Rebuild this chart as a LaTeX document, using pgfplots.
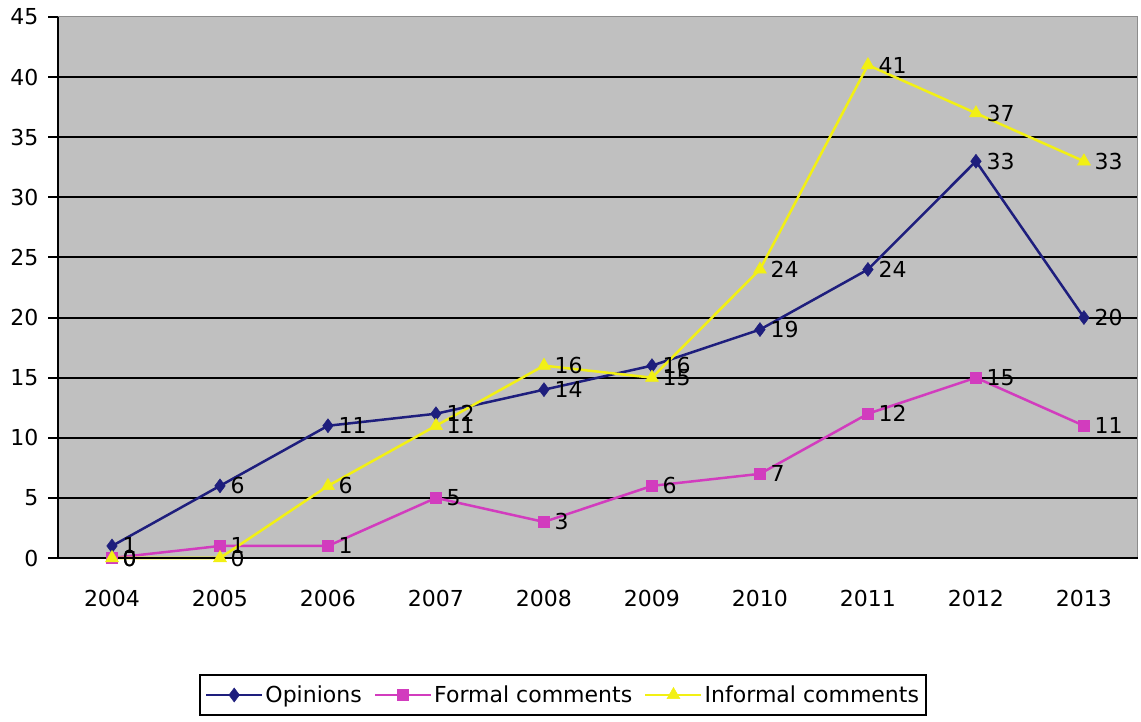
\documentclass[border=0pt]{standalone}
\usepackage{fontspec}
\setmainfont{DejaVu Sans}
\usepackage{pgfplots}
\pgfplotsset{compat=1.18}
\definecolor{plotgray}{RGB}{192,192,192}
\definecolor{opin}{RGB}{30,30,125}
\definecolor{formal}{RGB}{210,60,190}
\definecolor{informal}{RGB}{242,240,20}

\begin{document}
\begin{tikzpicture}
\useasboundingbox (0,0) rectangle (1141bp,722bp);
\begin{axis}[
  at={(58bp,164bp)}, anchor=south west,
  scale only axis, width=1080bp, height=541bp,
  font=\fontsize{22bp}{26bp}\selectfont,
  /pgf/number format/assume math mode=true,
  xmin=-0.5, xmax=9.5, ymin=0, ymax=45,
  clip=false,
  axis background/.style={fill=plotgray},
  axis line style={draw=black!45, line width=1bp},
  xtick={0,1,2,3,4,5,6,7,8,9},
  xticklabels={2004,2005,2006,2007,2008,2009,2010,2011,2012,2013},
  minor xtick={-0.5,0.5,1.5,2.5,3.5,4.5,5.5,6.5,7.5,8.5,9.5},
  xtick pos=bottom, ytick pos=left,
  tick align=outside,
  major tick length=10bp, minor tick length=10bp,
  xtick style={draw=none},
  minor x tick style={black, line width=2bp},
  ytick style={black, line width=2bp},
  ytick={0,5,...,40},
  extra y ticks={45},
  extra y tick style={ymajorgrids=false},
  ymajorgrids,
  major grid style={black, line width=2bp},
  xticklabel style={yshift=-19bp},
  yticklabel style={xshift=-6bp},
  legend columns=3,
  legend style={at={(0.4676,-0.2532)}, anchor=center,
    draw=black, line width=1.5bp, fill=white,
    inner xsep=5bp, inner ysep=9bp,
    font=\fontsize{22bp}{26bp}\selectfont,
    /tikz/every even column/.append style={column sep=10bp}},
  legend image code/.code={%
    \draw[mark repeat=2,mark phase=2] plot coordinates {(0bp,0bp) (28bp,0bp) (56bp,0bp)};},
  nodes near coords,
  every node near coord/.append style={anchor=west, xshift=7bp, text=black,
    font=\fontsize{22bp}{26bp}\selectfont},
]
\addplot[opin, line width=2.5bp, mark=diamond*, mark size=7bp,
  mark options={solid, fill=opin, line width=0.5bp}]
  coordinates {(0,1) (1,6) (2,11) (3,12) (4,14) (5,16) (6,19) (7,24) (8,33) (9,20)};
\addlegendentry{Opinions}
\addplot[formal, line width=2.5bp, mark=square*, mark size=5.5bp,
  mark options={solid, fill=formal, line width=0.5bp}]
  coordinates {(0,0) (1,1) (2,1) (3,5) (4,3) (5,6) (6,7) (7,12) (8,15) (9,11)};
\addlegendentry{Formal comments}
\addplot[informal, line width=2.5bp, mark=triangle*, mark size=7.5bp,
  mark options={solid, fill=informal, line width=0.5bp}]
  coordinates {(0,0) (1,0) (2,6) (3,11) (4,16) (5,15) (6,24) (7,41) (8,37) (9,33)};
\addlegendentry{Informal comments}
\draw[black, line width=2bp] (rel axis cs:0,0) -- (rel axis cs:0,1);
\draw[black, line width=2bp] (rel axis cs:0,0) -- (rel axis cs:1,0);
\end{axis}
\end{tikzpicture}
\end{document}
